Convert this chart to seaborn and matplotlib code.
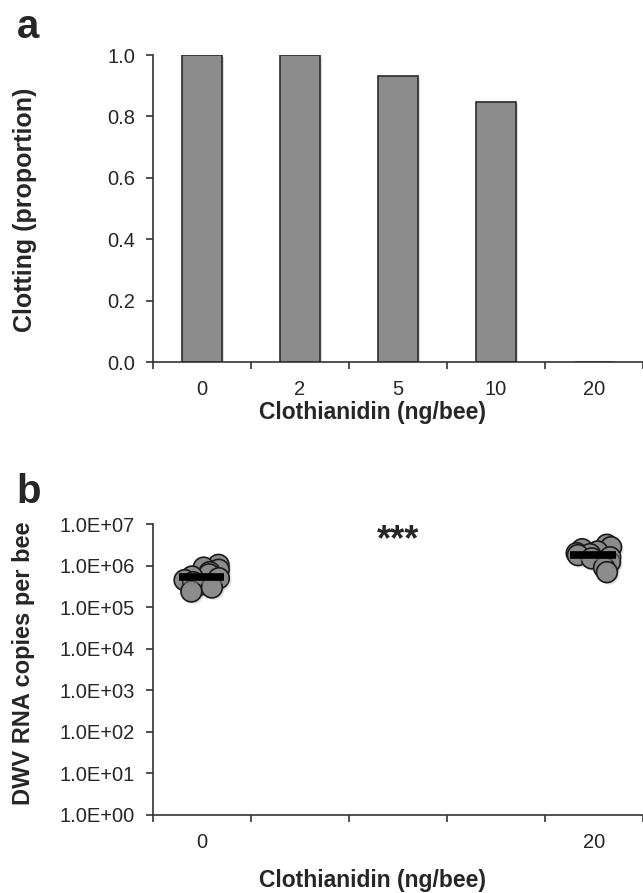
import numpy as np
import pandas as pd
import seaborn as sns
import matplotlib
matplotlib.use("Agg")
import matplotlib.pyplot as plt
import matplotlib.patheffects as pe
from matplotlib.ticker import FuncFormatter, FixedLocator

# panel a: clotting proportion by dose
doses = ["0", "2", "5", "10", "20"]
clotting = [1.0, 1.0, 0.933, 0.846, 0.0]

# panel b: DWV copies per bee (only 0 and 20 ng/bee measured)
dwv_0 = [1.05e6, 9.0e5, 8.0e5, 7.0e5, 6.2e5, 5.5e5, 5.0e5, 4.5e5, 4.0e5, 3.5e5, 3.0e5, 2.4e5]
dwv_20 = [3.2e6, 2.8e6, 2.5e6, 2.2e6, 2.0e6, 1.9e6, 1.8e6, 1.6e6, 1.5e6, 1.2e6, 9.0e5, 7.0e5]

sns.set_style("ticks")
plt.rcParams["font.family"] = ["Liberation Sans", "DejaVu Sans"]

fig = plt.figure(figsize=(6.43, 8.93), dpi=100)
ax1 = fig.add_axes([0.238, 0.5946, 0.762, 0.3438])
ax2 = fig.add_axes([0.238, 0.0874, 0.762, 0.3256])

edge = "#2b2b2b"
shadow = [pe.SimplePatchShadow(offset=(2, -1.5), shadow_rgbFace="#999999", alpha=0.35), pe.Normal()]

# --- panel a
df_a = pd.DataFrame({"dose": doses, "clotting": clotting})
sns.barplot(data=df_a, x="dose", y="clotting", order=doses, color="#8c8c8c",
            saturation=1, width=0.4, edgecolor=edge, linewidth=1.2, ax=ax1)
for p in ax1.patches:
    p.set_path_effects(shadow)
ax1.set_xlim(-0.5, 4.5)
ax1.set_ylim(0, 1.0)
ax1.set_yticks([0, 0.2, 0.4, 0.6, 0.8, 1.0])
ax1.yaxis.set_major_formatter(FuncFormatter(lambda v, p: f"{v:.1f}"))
ax1.set_ylabel("Clotting (proportion)", fontsize=18, fontweight="bold", va="center")
ax1.set_xlabel("Clothianidin (ng/bee)", fontsize=16.5, fontweight="bold", va="center")
ax1.yaxis.set_label_coords(-0.261, 0.495)
ax1.xaxis.set_label_coords(0.447, -0.163)

# --- panel b
df_b = pd.DataFrame({
    "dose": ["0"] * len(dwv_0) + ["20"] * len(dwv_20),
    "copies": dwv_0 + dwv_20,
})
np.random.seed(4)
sns.stripplot(data=df_b, x="dose", y="copies", order=doses, color="#8c8c8c",
              size=15, jitter=0.18, edgecolor="#1a1a1a", linewidth=1.2,
              alpha=1, ax=ax2, zorder=3)
for c in ax2.collections:
    c.set_path_effects([pe.SimplePatchShadow(offset=(1.5, -1.5), shadow_rgbFace="#999999",
                                             alpha=0.3), pe.Normal()])
for i, vals in [(0, dwv_0), (4, dwv_20)]:
    med = np.median(vals)
    ax2.plot([i - 0.24, i + 0.22], [med, med], color="black", lw=5.5,
             zorder=4, solid_capstyle="butt",
             path_effects=[pe.SimpleLineShadow(offset=(3, -2), shadow_color="#888888",
                                               alpha=0.5), pe.Normal()])
ax2.set_yscale("log")
ax2.set_xlim(-0.5, 4.5)
ax2.set_ylim(1, 1e7)
ax2.yaxis.set_major_locator(FixedLocator([10.0 ** k for k in range(8)]))
ax2.yaxis.set_minor_locator(FixedLocator([]))
ax2.yaxis.set_major_formatter(FuncFormatter(lambda v, p: f"{v:.1E}"))
ax2.set_xticks(range(5))
ax2.set_xticklabels(["0", "", "", "", "20"])
ax2.set_ylabel("DWV RNA copies per bee", fontsize=17, fontweight="bold", va="center")
ax2.set_xlabel("Clothianidin (ng/bee)", fontsize=16.5, fontweight="bold", va="center")
ax2.yaxis.set_label_coords(-0.265, 0.522)
ax2.xaxis.set_label_coords(0.447, -0.227)
ax2.text(2.0, 4.0e6, "***", fontsize=26, fontweight="bold", ha="center", va="center")

for ax in (ax1, ax2):
    for s in ("top", "right"):
        ax.spines[s].set_visible(False)
    for s in ("left", "bottom"):
        ax.spines[s].set_color("#333333")
        ax.spines[s].set_linewidth(1.2)
    ax.xaxis.set_minor_locator(FixedLocator([-0.5, 0.5, 1.5, 2.5, 3.5, 4.5]))
    ax.tick_params(axis="x", which="major", length=0, pad=13, labelsize=14.5)
    ax.tick_params(axis="x", which="minor", length=5, width=1.2, color="#333333")
    ax.tick_params(axis="y", which="major", length=5, width=1.2, color="#333333",
                   pad=8, labelsize=14.5)

fig.text(0.026, 0.970, "a", fontsize=29, fontweight="bold", va="center")
fig.text(0.026, 0.449, "b", fontsize=29, fontweight="bold", va="center")

fig.savefig("out.png", dpi=100)
